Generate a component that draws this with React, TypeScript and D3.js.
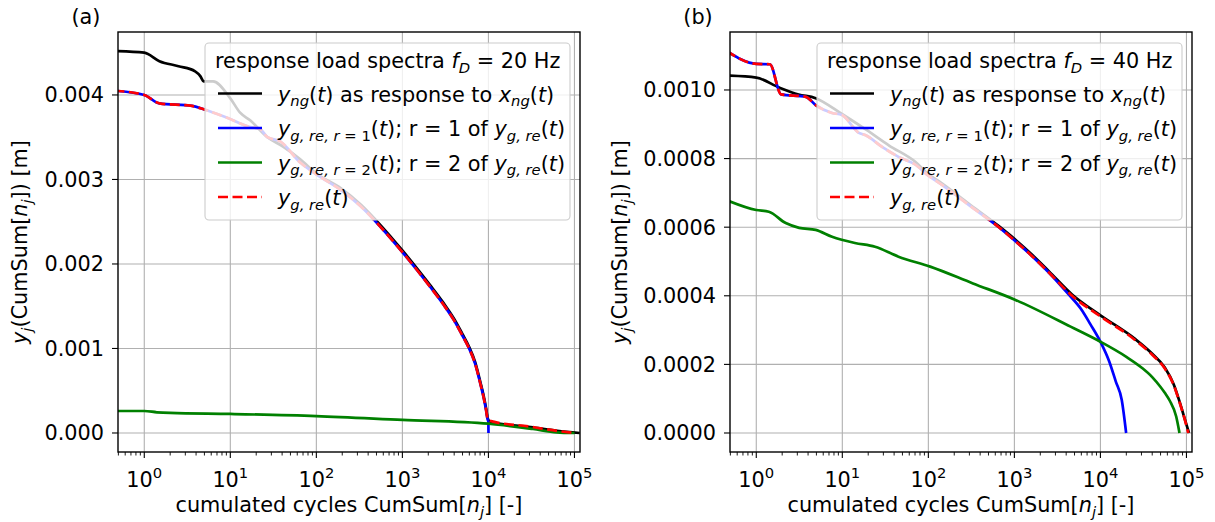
import React from "react";
import * as d3 from "d3";

type Pt = [number, number];

// panel (a): f_D = 20 Hz  -- [cumulated cycles, y]
const aNg: Pt[] = [
  [0.45, 0.00452], [1, 0.0045], [1.5, 0.0044], [2.5, 0.00434], [3.9, 0.00428], [4.5, 0.00422],
  [4.9, 0.00416], [6.3, 0.00416], [10, 0.00396], [13, 0.00379], [17, 0.0037], [27, 0.0035],
  [41, 0.00339], [65, 0.00324], [100, 0.00307], [190, 0.0029], [330, 0.0027], [556, 0.00246],
  [1000, 0.00216], [1500, 0.00194], [2100, 0.00175], [3000, 0.00154], [4000, 0.00135],
  [5000, 0.00117], [5900, 0.00103], [7000, 0.00084], [8070, 0.0006], [8800, 0.00044],
  [9400, 0.00029], [9850, 0.00017], [10500, 0.00013], [31000, 0.00007], [63000, 0.000025], [115000, 0],
];
const aR1: Pt[] = [
  [0.45, 0.00405], [1, 0.004], [1.5, 0.0039], [3.6, 0.00387], [4.9, 0.00383], [9.2, 0.00373],
  [17, 0.00362], [22, 0.0036], [27, 0.0035], [38, 0.00345], [65, 0.0032], [100, 0.00306],
  [190, 0.00288], [330, 0.00268], [556, 0.00244], [1000, 0.00214], [1500, 0.00192], [2100, 0.00173],
  [3000, 0.00152], [4000, 0.00133], [5000, 0.00115], [5900, 0.00101], [7000, 0.00082],
  [8070, 0.00058], [8800, 0.00042], [9400, 0.00027], [9800, 0.00016], [9990, 0.00013], [10020, 0],
];
const aR2: Pt[] = [
  [0.45, 0.00026], [1, 0.00026], [1.4, 0.000245], [2, 0.000237], [10, 0.000225], [100, 0.0002],
  [1000, 0.000155], [10000, 0.00011], [33000, 0.000047], [62000, 0.000008], [100000, 0],
];
const aRe: Pt[] = [
  [0.45, 0.00405], [1, 0.004], [1.5, 0.0039], [3.6, 0.00387], [4.9, 0.00383], [9.2, 0.00373],
  [17, 0.00362], [22, 0.0036], [27, 0.0035], [38, 0.00345], [65, 0.0032], [100, 0.00306],
  [190, 0.00288], [330, 0.00268], [556, 0.00244], [1000, 0.00214], [1500, 0.00192], [2100, 0.00173],
  [3000, 0.00152], [4000, 0.00133], [5000, 0.00115], [5900, 0.00101], [7000, 0.00082],
  [8070, 0.00058], [8800, 0.00042], [9400, 0.00027], [9800, 0.00016], [11400, 0.000134],
  [31000, 0.000075], [63000, 0.000024], [100000, 0],
];

// panel (b): f_D = 40 Hz
const bNg: Pt[] = [
  [0.45, 0.001042], [1, 0.001036], [1.85, 0.001007], [3.1, 0.000987], [4.9, 0.000976], [9.9, 0.00093],
  [18.7, 0.000885], [35, 0.000838], [71, 0.00079], [100, 0.000755], [141, 0.000729], [294, 0.000669],
  [660, 0.000603], [1000, 0.000566], [1585, 0.000521], [2512, 0.000472], [4677, 0.000404],
  [10000, 0.000343], [25000, 0.000275], [40000, 0.000231], [56000, 0.000191], [71000, 0.000142],
  [83000, 0.000092], [95500, 0.000041], [107000, 0],
];
const bR1: Pt[] = [
  [0.45, 0.001114], [1, 0.001076], [1.44, 0.001075], [1.94, 0.000987], [3.77, 0.00098], [4.9, 0.000956],
  [7.6, 0.000933], [9.9, 0.000927], [15.6, 0.000875], [18.7, 0.000868], [29, 0.000834], [45, 0.000805],
  [71, 0.000782], [100, 0.00075], [141, 0.000725], [294, 0.000665], [660, 0.0006], [1000, 0.000562],
  [1585, 0.000517], [2512, 0.000468], [4000, 0.000412], [6200, 0.000355], [7600, 0.000318],
  [10000, 0.000266], [12600, 0.00021], [15100, 0.00015], [17700, 0.000096], [19900, 0],
];
const bR2: Pt[] = [
  [0.45, 0.000679], [1, 0.00065], [1.4, 0.000645], [2.2, 0.000612], [3.15, 0.000598], [4.9, 0.000592],
  [7.6, 0.000572], [14, 0.000554], [24, 0.000543], [45, 0.000514], [105, 0.000485], [330, 0.000436],
  [1030, 0.000388], [4500, 0.00031], [10000, 0.000266], [20000, 0.000222], [30000, 0.000191],
  [40000, 0.000163], [50000, 0.000134], [56000, 0.000117], [64000, 0.000094], [76000, 0.000048], [83000, 0],
];
const bRe: Pt[] = [
  [0.45, 0.001114], [1, 0.001076], [1.44, 0.001075], [1.94, 0.000987], [3.77, 0.00098], [4.9, 0.000956],
  [7.6, 0.000933], [9.9, 0.000927], [15.6, 0.000875], [18.7, 0.000868], [29, 0.000834], [45, 0.000805],
  [71, 0.000782], [100, 0.00075], [141, 0.000725], [294, 0.000665], [660, 0.0006], [1000, 0.000562],
  [1585, 0.000517], [2512, 0.000468], [4677, 0.0004], [10000, 0.00034], [25000, 0.000272],
  [40000, 0.000228], [56000, 0.000188], [71000, 0.00014], [83000, 0.00009], [95500, 0.00004], [105000, 0],
];

const aTicksY = [0, 0.001, 0.002, 0.003, 0.004];
const bTicksY = [0, 0.0002, 0.0004, 0.0006, 0.0008, 0.001];
const xTicks = [1, 10, 100, 1000, 10000, 100000];
const xTickExp = ["0", "1", "2", "3", "4", "5"];

const FONT = "DejaVu Sans";
const FS = 20.8;

type Seg = { t: string; it?: boolean; sub?: boolean; sup?: boolean };

// matplotlib-like mathtext with tspans
function Rich({ segs, size = FS, ...rest }: { segs: Seg[]; size?: number; [k: string]: any }) {
  let cur = 0;
  return (
    <text fontFamily={FONT} fontSize={size} fill="#000" {...rest}>
      {segs.map((s, i) => {
        const want = s.sub ? size * 0.24 : s.sup ? -size * 0.42 : 0;
        const dy = want - cur;
        cur = want;
        return (
          <tspan key={i} dy={dy || undefined} fontStyle={s.it ? "italic" : undefined}
            fontSize={s.sub || s.sup ? size * 0.71 : undefined}>{s.t}</tspan>
        );
      })}
    </text>
  );
}

const legendRows: { color: string; dash?: string; segs: Seg[] }[] = [
  { color: "#000000", segs: [{ t: "y", it: true }, { t: "ng", it: true, sub: true }, { t: "(" }, { t: "t", it: true }, { t: ") as response to " }, { t: "x", it: true }, { t: "ng", it: true, sub: true }, { t: "(" }, { t: "t", it: true }, { t: ")" }] },
  { color: "#0000ff", segs: [{ t: "y", it: true }, { t: "g, re, r", it: true, sub: true }, { t: " = 1", sub: true }, { t: "(" }, { t: "t", it: true }, { t: "); r = 1 of " }, { t: "y", it: true }, { t: "g, re", it: true, sub: true }, { t: "(" }, { t: "t", it: true }, { t: ")" }] },
  { color: "#008000", segs: [{ t: "y", it: true }, { t: "g, re, r", it: true, sub: true }, { t: " = 2", sub: true }, { t: "(" }, { t: "t", it: true }, { t: "); r = 2 of " }, { t: "y", it: true }, { t: "g, re", it: true, sub: true }, { t: "(" }, { t: "t", it: true }, { t: ")" }] },
  { color: "#ff0000", dash: "10,4.5", segs: [{ t: "y", it: true }, { t: "g, re", it: true, sub: true }, { t: "(" }, { t: "t", it: true }, { t: ")" }] },
];

function Panel(props: {
  id: string; left: number; tag: string; freq: string;
  ng: Pt[]; r1: Pt[]; r2: Pt[]; re: Pt[];
  yDomain: [number, number]; yTicks: number[]; yFmt: string; yLabelOff: number;
}) {
  const { id, left, tag, freq, ng, r1, r2, re, yDomain, yTicks, yFmt, yLabelOff } = props;
  const W = 462, top = 32, bottom = 452, right = left + W;
  const x = d3.scaleLog().domain([0.495, 1.16e5]).range([left, right]);
  const y = d3.scaleLinear().domain(yDomain).range([bottom, top]);
  const line = d3.line<Pt>().x(d => x(d[0])).y(d => y(d[1])).curve(d3.curveMonotoneX);
  const fmt = d3.format(yFmt);
  const minor: number[] = [];
  for (let k = -1; k <= 5; k++) for (let m = 2; m <= 9; m++) {
    const v = m * Math.pow(10, k);
    if (v > 0.495 && v < 1.16e5) minor.push(v);
  }
  const lx = right - 375, ly = 43;
  const LW = 2.7;
  return (
    <g>
      <defs>
        <clipPath id={id}><rect x={left} y={top} width={W} height={bottom - top} /></clipPath>
      </defs>
      <g stroke="#b0b0b0" strokeWidth={1.1}>
        {xTicks.map(t => <line key={t} x1={x(t)} x2={x(t)} y1={top} y2={bottom} />)}
        {yTicks.map(t => <line key={t} x1={left} x2={right} y1={y(t)} y2={y(t)} />)}
      </g>
      <g clipPath={`url(#${id})`} fill="none" strokeLinejoin="round">
        <path d={line(ng)!} stroke="#000000" strokeWidth={LW} />
        <path d={line(r1)!} stroke="#0000ff" strokeWidth={LW} />
        <path d={line(r2)!} stroke="#008000" strokeWidth={LW} />
        <path d={line(re)!} stroke="#ff0000" strokeWidth={LW} strokeDasharray="10,4.5" />
      </g>
      <rect x={left} y={top} width={W} height={bottom - top} fill="none" stroke="#000" strokeWidth={1.4} />
      <g stroke="#000" strokeWidth={1.1}>
        {xTicks.map(t => <line key={t} x1={x(t)} x2={x(t)} y1={bottom} y2={bottom + 6} />)}
        {minor.map(t => <line key={t} x1={x(t)} x2={x(t)} y1={bottom} y2={bottom + 3.5} strokeWidth={0.9} />)}
        {yTicks.map(t => <line key={t} x1={left - 6} x2={left} y1={y(t)} y2={y(t)} />)}
      </g>
      {xTicks.map((t, i) => (
        <Rich key={t} x={x(t)} y={487} textAnchor="middle" segs={[{ t: "10" }, { t: xTickExp[i], sup: true }]} />
      ))}
      {yTicks.map(t => (
        <text key={t} x={left - 14} y={y(t)} dy="0.36em" textAnchor="end" fontFamily={FONT} fontSize={FS}>{fmt(t)}</text>
      ))}
      <Rich x={(left + right) / 2} y={512} textAnchor="middle"
        segs={[{ t: "cumulated cycles CumSum[" }, { t: "n", it: true }, { t: "j", it: true, sub: true }, { t: "] [-]" }]} />
      <Rich transform={`translate(${left - yLabelOff},${(top + bottom) / 2}) rotate(-90)`} textAnchor="middle"
        segs={[{ t: "y", it: true }, { t: "j", it: true, sub: true }, { t: "(CumSum[" }, { t: "n", it: true }, { t: "j", it: true, sub: true }, { t: "]) [m]" }]} />
      <text x={left - 32} y={24} textAnchor="middle" fontFamily={FONT} fontSize={FS}>{tag}</text>
      <rect x={lx} y={ly} width={365} height={177} rx={4} fill="#fff" fillOpacity={0.8} stroke="#cccccc" strokeWidth={1.1} />
      <Rich x={lx + 10} y={ly + 25}
        segs={[{ t: "response load spectra " }, { t: "f", it: true }, { t: "D", it: true, sub: true }, { t: ` = ${freq} Hz` }]} />
      {legendRows.map((r, i) => {
        const cy = ly + 50.5 + i * 34.5;
        return (
          <g key={i}>
            <line x1={lx + 13} x2={lx + 57} y1={cy} y2={cy} stroke={r.color} strokeWidth={LW} strokeDasharray={r.dash} />
            <Rich x={lx + 73} y={cy + 8} segs={r.segs} />
          </g>
        );
      })}
    </g>
  );
}

export default function App() {
  return (
    <svg width={1215} height={522} style={{ position: "absolute", left: 0, top: 0, background: "#fff" }}>
      <Panel id="clipA" left={118} tag="(a)" freq="20" ng={aNg} r1={aR1} r2={aR2} re={aRe}
        yDomain={[-0.000225, 0.004745]} yTicks={aTicksY} yFmt=".3f" yLabelOff={91} />
      <Panel id="clipB" left={730} tag="(b)" freq="40" ng={bNg} r1={bR1} r2={bR2} re={bRe}
        yDomain={[-0.0000554, 0.001169]} yTicks={bTicksY} yFmt=".4f" yLabelOff={103} />
    </svg>
  );
}
